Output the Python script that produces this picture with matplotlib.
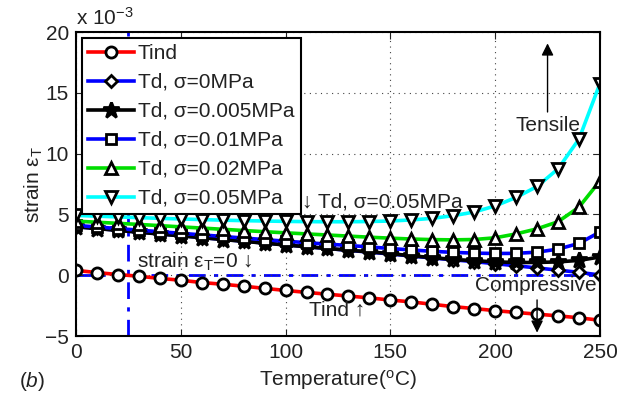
import matplotlib
matplotlib.use("Agg")
import matplotlib.pyplot as plt
import numpy as np

plt.rcParams['font.family'] = ['Liberation Sans', 'DejaVu Sans']
plt.rcParams['mathtext.fontset'] = 'custom'
plt.rcParams['mathtext.rm'] = 'Liberation Sans'
plt.rcParams['mathtext.it'] = 'Liberation Sans:italic'

temperature = [0, 10, 20, 30, 40, 50, 60, 70, 80, 90, 100, 110, 120, 130, 140,
               150, 160, 170, 180, 190, 200, 210, 220, 230, 240, 250]

tind = [0.40, 0.22, 0.06, -0.08, -0.26, -0.41, -0.60, -0.74, -0.90, -1.08, -1.25,
        -1.41, -1.56, -1.71, -1.86, -2.04, -2.19, -2.39, -2.58, -2.74, -2.91,
        -3.06, -3.20, -3.34, -3.50, -3.70]
td_0 = [4.00, 3.85, 3.70, 3.55, 3.40, 3.25, 3.10, 2.95, 2.80, 2.65, 2.50, 2.35,
        2.20, 2.05, 1.90, 1.75, 1.58, 1.42, 1.27, 1.12, 0.95, 0.78, 0.60, 0.42,
        0.24, 0.02]
td_0005 = [3.98, 3.84, 3.69, 3.54, 3.39, 3.24, 3.09, 2.94, 2.79, 2.64, 2.49, 2.34,
           2.20, 2.06, 1.92, 1.78, 1.60, 1.45, 1.30, 1.20, 1.10, 1.05, 1.05, 1.10,
           1.22, 1.50]
td_001 = [4.10, 3.97, 3.84, 3.71, 3.58, 3.45, 3.32, 3.19, 3.06, 2.93, 2.80, 2.68,
          2.56, 2.45, 2.33, 2.20, 2.08, 1.97, 1.88, 1.82, 1.79, 1.80, 1.90, 2.15,
          2.62, 3.56]
td_002 = [4.45, 4.36, 4.27, 4.18, 4.08, 3.98, 3.88, 3.78, 3.68, 3.58, 3.49, 3.40,
          3.31, 3.22, 3.13, 3.05, 2.98, 2.93, 2.91, 2.94, 3.08, 3.40, 3.82, 4.40,
          5.60, 7.76]
td_005 = [4.92, 4.86, 4.80, 4.74, 4.68, 4.63, 4.58, 4.53, 4.49, 4.46, 4.43, 4.41,
          4.40, 4.40, 4.42, 4.46, 4.55, 4.68, 4.90, 5.20, 5.70, 6.40, 7.30, 8.75,
          11.20, 15.77]

labels = ['Tind', 'Td, σ=0MPa', 'Td, σ=0.005MPa', 'Td, σ=0.01MPa',
          'Td, σ=0.02MPa', 'Td, σ=0.05MPa']
colors = ['#ff0000', '#0000ff', '#000000', '#0000ff', '#00dd00', '#00ffff']
markers = ['o', 'D', '*', 's', '^', 'v']
msizes = [8, 6.5, 12, 6.5, 9, 9]
series = [tind, td_0, td_0005, td_001, td_002, td_005]

xticks = [0, 50, 100, 150, 200, 250]
yticks = [-5, 0, 5, 10, 15, 20]

fig = plt.figure(figsize=(6.29, 4.01), dpi=100)
ax = fig.add_axes([0.1208, 0.162, 0.833, 0.758])

fs = 15
tc = '#222222'
for y, lab, c, m, ms in zip(series, labels, colors, markers, msizes):
    mfc = 'black' if m == '*' else 'white'
    ax.plot(temperature, y, color=c, lw=2.6, marker=m, ms=ms,
            mec='black', mfc=mfc, mew=2.0, label=lab)

ax.axhline(0, color='#0000ff', lw=2, ls=(0, (6, 3, 1.5, 3)), zorder=1)
ax.axvline(25, color='#0000ff', lw=2, ls=(0, (6, 3, 1.5, 3)), zorder=1)

ax.set_xlim(0, 250)
ax.set_ylim(-5, 20)
ax.set_xticks(xticks)
ax.set_yticks(yticks)
ax.tick_params(direction='in', labelsize=fs, length=5, top=True, right=True,
               colors=tc, pad=5)
ax.grid(True, ls=(0, (1, 4)), color='#444444', lw=0.8)
for sp in ax.spines.values():
    sp.set_linewidth(1.5)

ax.set_xlabel('Temperature($^{\\rm o}$C)', fontsize=fs, color=tc, labelpad=4)
ax.set_ylabel('strain ε$_{\\rm T}$', fontsize=fs, color=tc, labelpad=0)
ax.text(0.0, 1.012, 'x 10$^{-3}$', transform=ax.transAxes, fontsize=fs,
        color=tc, ha='left', va='bottom')
fig.text(0.03, 0.035, '($b$)', fontsize=fs, color=tc)

leg = ax.legend(loc='upper left', bbox_to_anchor=(0.011, 0.982), borderaxespad=0,
                fontsize=fs, frameon=True, fancybox=False, edgecolor='black',
                framealpha=1, handlelength=2.2, labelspacing=0.48,
                handletextpad=0.2, borderpad=0.3)
leg.get_frame().set_linewidth(1.5)
for t in leg.get_texts():
    t.set_color(tc)

ax.text(29, 1.1, 'strain ε$_{\\rm T}$=0 ↓', fontsize=fs, color=tc, va='center', ha='left')
ax.text(108, 6.0, '↓ Td, σ=0.05MPa', fontsize=fs, color=tc, va='center', ha='left')
ax.text(111, -2.9, 'Tind ↑', fontsize=fs, color=tc, va='center', ha='left')
ax.text(225, 12.3, 'Tensile', fontsize=fs, color=tc, va='center', ha='center')
ax.text(219.5, -0.85, 'Compressive', fontsize=fs, color=tc, va='center', ha='center')
ax.annotate('', xy=(225, 19.3), xytext=(225, 13.2),
            arrowprops=dict(arrowstyle='-|>', color='black', lw=1, mutation_scale=18))
ax.annotate('', xy=(220, -4.95), xytext=(220, -1.8),
            arrowprops=dict(arrowstyle='-|>', color='black', lw=1, mutation_scale=18))

fig.savefig('out.png', dpi=100)
